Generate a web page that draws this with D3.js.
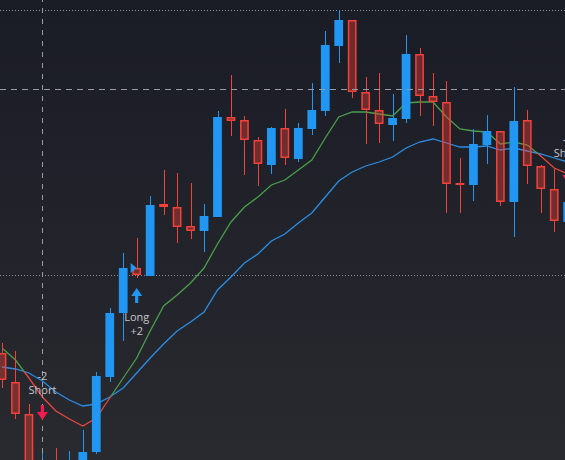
<!DOCTYPE html>
<html><head><meta charset="utf-8">
<script src="https://cdn.jsdelivr.net/npm/d3@7"></script>
<style>html,body{margin:0;padding:0;background:#1f2129;overflow:hidden}svg{display:block}</style>
</head><body>
<svg id="chart" width="565" height="460"></svg>
<script>
// ---- data ----
const openP  = [110.7,107.8,104.6,97.5,99.5,97.5,98.5,100.8,108.3,114.7,119.2,118.4,125.6,125.3,123.4,122.9,124.3,134.3,134.0,132.0,129.5,133.2,130.1,133.1,134.9,141.4,144.0,136.8,135.0,133.5,134.1,140.6,136.4,135.8,127.7,127.5,131.5,132.9,125.8,134.0,129.4,127.1,123.8];
const highP  = [111.7,110.9,105.6,101.2,101.2,100.9,103.0,108.8,115.2,120.7,122.2,126.4,129.0,128.7,127.7,125.6,134.9,138.5,134.4,132.3,133.3,135.1,133.7,137.7,142.9,145.0,144.0,138.3,138.7,136.6,142.5,141.2,138.7,137.9,130.2,133.1,134.5,132.9,137.3,135.0,129.5,129.1,126.5];
const lowP   = [107.2,104.1,98.5,97.0,97.0,97.0,98.0,100.6,107.8,111.9,118.2,118.4,124.5,121.7,122.1,120.8,124.3,132.4,128.5,127.4,128.6,129.5,129.8,132.5,134.4,139.7,136.2,131.6,131.7,131.9,133.7,134.4,133.4,124.7,124.7,125.9,129.6,125.4,122.3,127.6,124.7,122.8,122.5];
const closeP = [108.0,104.6,99.0,99.7,98.0,99.8,100.8,108.4,114.7,119.2,118.5,125.5,125.3,123.3,122.9,124.4,134.3,133.9,132.0,129.6,133.2,130.2,133.2,135.0,141.5,144.0,136.8,135.0,133.6,134.2,140.6,136.4,135.8,127.6,127.6,131.6,132.9,125.8,133.9,129.4,127.1,123.9,125.8];
const fastMA = [111.2,110.0,108.2,106.3,104.9,104.1,103.4,104.2,106.2,108.2,110.2,112.9,115.4,116.5,117.7,119.2,121.6,123.8,125.3,126.3,127.5,128.0,129.0,130.0,132.2,134.3,134.8,134.8,134.6,134.4,135.7,135.8,135.8,134.3,133.1,132.9,132.8,131.6,131.8,131.5,130.4,129.2,128.6];
const slowMA = [109.3,109.1,108.7,107.9,106.8,106.0,105.4,105.6,106.3,107.2,108.7,110.2,111.6,112.9,113.8,114.8,117.0,118.3,119.7,120.6,121.9,122.6,123.7,124.7,126.3,127.9,128.8,129.4,129.8,130.3,131.2,131.8,132.1,131.7,131.3,131.3,131.4,131.0,131.2,130.9,130.6,130.2,129.8];
const levels = [145.0, 118.5];            // dotted price levels
const crossIndex = 3, crossPrice = 137.05; // crosshair
const sigIndex = [3, 10, 42];
const sigSide  = ["Short", "Long", "Short"];
const sigQty   = ["-2", "+2", "-2"];
const sigTip   = [104.0, 117.2, 127.7];    // price at arrow tip
const entryIndex = 10, entryPrice = 119.2; // fill marker

// ---- setup ----
const W = 565, H = 460;
const n = openP.length;
const svg = d3.select("#chart");
const x = d3.scaleBand().domain(d3.range(n)).range([-4.735, 574.435]).paddingInner(0.35).paddingOuter(0.175);
const cx = i => x(i) + x.bandwidth() / 2;
const y = d3.scaleLinear().domain([146, 100]).range([0, H]);

const defs = svg.append("defs");
const grad = defs.append("linearGradient").attr("id", "bg").attr("x1", 0).attr("x2", 0).attr("y1", 0).attr("y2", 1);
grad.append("stop").attr("offset", "0%").attr("stop-color", "#1a1c26");
grad.append("stop").attr("offset", "100%").attr("stop-color", "#292a2f");
svg.append("rect").attr("width", W).attr("height", H).attr("fill", "url(#bg)");

// clip regions above/below slow MA
const idx = d3.range(n);
defs.append("clipPath").attr("id", "above").append("path")
  .attr("d", d3.area().x(cx).y0(-50).y1(i => y(slowMA[i]))(idx));
defs.append("clipPath").attr("id", "below").append("path")
  .attr("d", d3.area().x(cx).y0(i => y(slowMA[i])).y1(H + 50)(idx));

// dotted levels
svg.append("g").selectAll("line").data(levels).join("line")
  .attr("x1", 0).attr("x2", W).attr("y1", d => Math.round(y(d)) + 0.5).attr("y2", d => Math.round(y(d)) + 0.5)
  .attr("stroke", "#8b8e97").attr("stroke-width", 1).attr("stroke-dasharray", "1,2");

// MAs
const lineSlow = d3.line().x(cx).y(i => y(slowMA[i]));
const lineFast = d3.line().x(cx).y(i => y(fastMA[i]));
svg.append("path").attr("d", lineSlow(idx)).attr("fill", "none").attr("stroke", "#2b8de4").attr("stroke-width", 1.3);
svg.append("path").attr("d", lineFast(idx)).attr("fill", "none").attr("stroke", "#4a9f4a").attr("stroke-width", 1.3).attr("clip-path", "url(#above)");
svg.append("path").attr("d", lineFast(idx)).attr("fill", "none").attr("stroke", "#e5473f").attr("stroke-width", 1.3).attr("clip-path", "url(#below)");

// candles
const up = i => closeP[i] >= openP[i];
const blue = "#2196f3", red = "#f5413a";
const g = svg.append("g");
const wx = i => Math.round(cx(i)) + 0.5;
g.selectAll("line.wu").data(idx).join("line").attr("class", "wu")
  .attr("x1", wx).attr("x2", wx)
  .attr("y1", i => y(highP[i])).attr("y2", i => y(Math.max(openP[i], closeP[i])))
  .attr("stroke", i => up(i) ? blue : red).attr("stroke-width", 1);
g.selectAll("line.wd").data(idx).join("line").attr("class", "wd")
  .attr("x1", wx).attr("x2", wx)
  .attr("y1", i => y(Math.min(openP[i], closeP[i]))).attr("y2", i => y(lowP[i]))
  .attr("stroke", i => up(i) ? blue : red).attr("stroke-width", 1);
const bw = x.bandwidth();
g.selectAll("rect.b").data(idx.filter(up)).join("rect").attr("class", "b")
  .attr("x", i => x(i)).attr("width", bw)
  .attr("y", i => y(closeP[i])).attr("height", i => Math.max(1, y(openP[i]) - y(closeP[i])))
  .attr("fill", blue);
g.selectAll("rect.r").data(idx.filter(i => !up(i))).join("rect").attr("class", "r")
  .attr("x", i => x(i) + 0.75).attr("width", bw - 1.5)
  .attr("y", i => y(openP[i]) + 0.75).attr("height", i => Math.max(0.5, y(closeP[i]) - y(openP[i]) - 1.5))
  .attr("fill", "rgba(244,67,54,0.38)").attr("stroke", red).attr("stroke-width", 1.5);

// crosshair
const chx = Math.round(cx(crossIndex)) + 0.5, chy = Math.round(y(crossPrice)) + 0.5;
svg.append("line").attr("x1", chx).attr("x2", chx).attr("y1", 0).attr("y2", H)
  .attr("stroke", "#9a9da6").attr("stroke-dasharray", "5,6").attr("stroke-dashoffset", 3);
svg.append("line").attr("x1", 0).attr("x2", W).attr("y1", chy).attr("y2", chy)
  .attr("stroke", "#9a9da6").attr("stroke-dasharray", "6,5");

// entry marker
svg.append("path")
  .attr("d", `M${cx(entryIndex) - 6},${y(entryPrice) - 5}L${cx(entryIndex)},${y(entryPrice)}L${cx(entryIndex) - 6},${y(entryPrice) + 5}Z`)
  .attr("fill", blue);

// signals
const sg = svg.append("g").attr("font-family", "'Open Sans', 'Noto Sans', sans-serif").attr("font-size", 11);
sigIndex.forEach((bi, k) => {
  const sx = cx(bi), ty = y(sigTip[k]);
  const isLong = sigSide[k] === "Long";
  const s = isLong ? 1 : -1; // direction from tip towards tail
  const pts = [[0,0],[5.5,8],[1.6,8],[1.6,15],[-1.6,15],[-1.6,8],[-5.5,8]]
    .map(([dx, dy]) => [sx + dx, ty + s * dy]);
  sg.append("path").attr("d", "M" + pts.map(p => p.join(",")).join("L") + "Z")
    .attr("fill", isLong ? blue : "#f7194f");
  const tail = ty + s * 15;
  const l1 = isLong ? sigSide[k] : sigQty[k];
  const l2 = isLong ? sigQty[k] : sigSide[k];
  const c1 = isLong ? tail + 14 : tail - 28.5;
  const c2 = isLong ? tail + 28 : tail - 14.5;
  [[l1, c1], [l2, c2]].forEach(([t, cy]) => {
    sg.append("text").attr("x", sx).attr("y", cy).attr("dy", "0.35em")
      .attr("text-anchor", "middle").attr("fill", "#c3c6ce").text(t);
  });
});
</script>
</body></html>
